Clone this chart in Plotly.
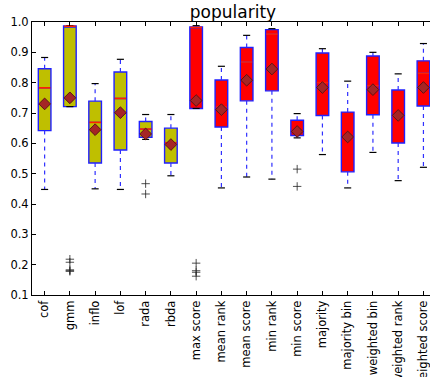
import plotly.graph_objects as go

labels = ['cof', 'gmm', 'inflo', 'lof', 'rada', 'rbda', 'max score', 'mean rank',
          'mean score', 'min rank', 'min score', 'majority', 'majority bin',
          'weighted bin', 'weighted rank', 'weighted score']
q1 = [0.642, 0.721, 0.535, 0.578, 0.620, 0.535, 0.715, 0.654,
      0.740, 0.773, 0.626, 0.692, 0.506, 0.694, 0.601, 0.723]
median = [0.783, 0.986, 0.669, 0.748, 0.647, 0.602, 0.982, 0.720,
          0.868, 0.960, 0.640, 0.800, 0.620, 0.790, 0.690, 0.831]
q3 = [0.846, 0.987, 0.739, 0.835, 0.672, 0.650, 0.984, 0.809,
      0.916, 0.975, 0.676, 0.898, 0.703, 0.888, 0.776, 0.872]
whisker_low = [0.448, 0.721, 0.450, 0.448, 0.613, 0.493, 0.715, 0.453,
               0.489, 0.482, 0.618, 0.563, 0.453, 0.570, 0.477, 0.521]
whisker_high = [0.883, 0.988, 0.797, 0.877, 0.695, 0.695, 0.988, 0.854,
                0.956, 0.978, 0.698, 0.912, 0.805, 0.900, 0.829, 0.929]
mean = [0.730, 0.750, 0.645, 0.701, 0.631, 0.596, 0.741, 0.711,
        0.808, 0.845, 0.639, 0.784, 0.621, 0.777, 0.692, 0.784]
fliers = {
    'gmm': [0.218, 0.208, 0.183, 0.180, 0.178],
    'rada': [0.467, 0.433],
    'max score': [0.205, 0.180, 0.175, 0.162],
    'min score': [0.515, 0.458],
}
n_yellow = 6  # first six are base detectors (yellow), rest ensembles (red)

pos = list(range(1, len(labels) + 1))
BOXW = 0.5
CAPW = 0.28

fig = go.Figure()

groups = [(range(0, n_yellow), '#BFBF00'), (range(n_yellow, len(labels)), '#FF0000')]
for idx, fill in groups:
    idx = list(idx)
    fig.add_trace(go.Box(
        x=[pos[i] for i in idx],
        q1=[q1[i] for i in idx],
        median=[median[i] for i in idx],
        q3=[q3[i] for i in idx],
        lowerfence=[q1[i] for i in idx],
        upperfence=[q3[i] for i in idx],
        width=BOXW, whiskerwidth=0,
        fillcolor=fill, line=dict(color='#2020FF', width=1.4),
        boxpoints=False, showlegend=False, hoverinfo='skip'))

# whiskers (dashed blue)
wx, wy = [], []
for i, p in enumerate(pos):
    wx += [p, p, None, p, p, None]
    wy += [q1[i], whisker_low[i], None, q3[i], whisker_high[i], None]
fig.add_trace(go.Scatter(x=wx, y=wy, mode='lines',
                         line=dict(color='#3030FF', width=1.2, dash='4px,4px'),
                         showlegend=False, hoverinfo='skip'))

# caps (black)
cx, cy = [], []
for i, p in enumerate(pos):
    for v in (whisker_low[i], whisker_high[i]):
        cx += [p - CAPW / 2, p + CAPW / 2, None]
        cy += [v, v, None]
fig.add_trace(go.Scatter(x=cx, y=cy, mode='lines',
                         line=dict(color='black', width=1.2),
                         showlegend=False, hoverinfo='skip'))

# medians (red)
mx, my = [], []
for i, p in enumerate(pos):
    mx += [p - BOXW / 2 + 0.02, p + BOXW / 2 - 0.02, None]
    my += [median[i], median[i], None]
fig.add_trace(go.Scatter(x=mx, y=my, mode='lines',
                         line=dict(color='#FF2000', width=1.6),
                         showlegend=False, hoverinfo='skip'))

# fliers
fx, fy = [], []
for name, vals in fliers.items():
    p = pos[labels.index(name)]
    fx += [p] * len(vals)
    fy += vals
fig.add_trace(go.Scatter(x=fx, y=fy, mode='markers',
                         marker=dict(symbol='cross-thin', size=6,
                                     line=dict(color='#222222', width=0.8)),
                         showlegend=False, hoverinfo='skip'))

# means
fig.add_trace(go.Scatter(x=pos, y=mean, mode='markers',
                         marker=dict(symbol='diamond', size=9, color='#A52525',
                                     line=dict(color='#5A1515', width=1)),
                         showlegend=False, hoverinfo='skip'))

fig.update_layout(
    width=430, height=377,
    margin=dict(l=32, r=0, t=22, b=82),
    paper_bgcolor='white', plot_bgcolor='white',
    font=dict(family='DejaVu Sans', size=11.5, color='black'),
    title=dict(text='popularity', font=dict(size=17, color='black'),
               x=233 / 430, xref='container', xanchor='center',
               y=1 - 12 / 377, yref='container', yanchor='middle'),
    boxmode='overlay',
    xaxis=dict(range=[0.5, 16.26], tickmode='array', tickvals=pos, ticktext=labels,
               tickangle=-90, ticks='inside', ticklen=4, tickcolor='black',
               ticklabeloverflow='allow', automargin=False,
               showline=True, linecolor='black', linewidth=1, mirror='ticks',
               showgrid=False, zeroline=False),
    yaxis=dict(range=[0.1, 1.0], tickmode='array',
               tickvals=[0.1, 0.2, 0.3, 0.4, 0.5, 0.6, 0.7, 0.8, 0.9, 1.0],
               tickformat='.1f', ticks='inside', ticklen=4, tickcolor='black',
               automargin=False,
               showline=True, linecolor='black', linewidth=1,
               showgrid=False, zeroline=False),
)

fig.write_html('out.html')
